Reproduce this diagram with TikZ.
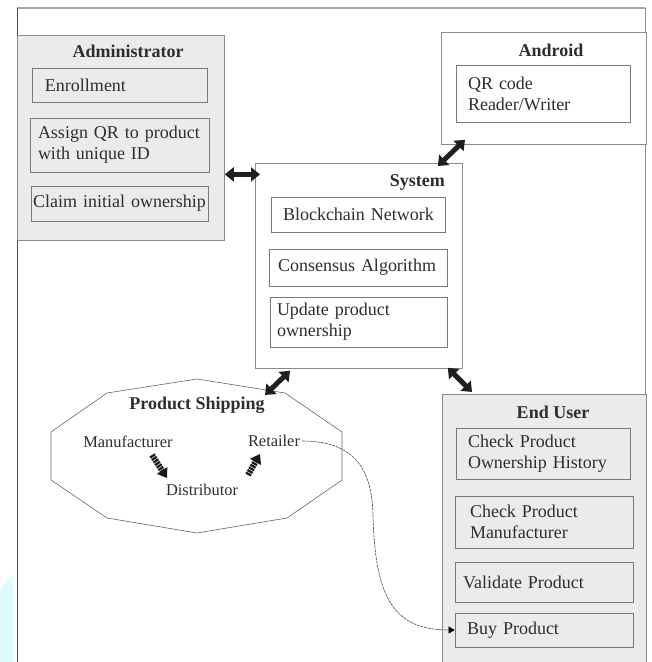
\documentclass[tikz,border=0pt]{standalone}
\usepackage{fontspec}
\setmainfont{Liberation Serif}
\usetikzlibrary{arrows.meta,calc}
\definecolor{txt}{HTML}{2E2E2E}
\definecolor{boxfill}{HTML}{EBEBEB}
\definecolor{edge}{HTML}{8C8C8C}
\definecolor{iedge}{HTML}{787878}
\definecolor{wm}{HTML}{DDFBFD}
\begin{document}
\begin{tikzpicture}[x=1pt,y=-1pt,
  font=\fontsize{18}{21}\selectfont, text=txt,
  group/.style={draw=edge, line width=0.8pt, anchor=north west, inner sep=0pt},
  item/.style={draw=iedge, line width=0.7pt, align=left, inner ysep=0pt},
  title/.style={font=\fontsize{18}{21}\selectfont\bfseries, inner sep=2pt},
  small/.style={font=\fontsize{16.4}{19}\selectfont, inner sep=2pt},
  bigarrow/.style={draw=black!88, line width=5pt,
    {Triangle[width=14pt,length=9pt]}-{Triangle[width=14pt,length=9pt]}},
  stripe/.style={draw=black!90, line width=6pt, dash pattern=on 2.2pt off 0.8pt,
    -{Triangle[width=12pt,length=9pt]}},
  conn/.style={draw=black!70, line width=0.6pt, dash pattern=on 3pt off 0.8pt,
    -{Triangle[width=7pt,length=6pt,black,fill=black]}}
]
\useasboundingbox (0,0) rectangle (652,662);
\clip (0,0) rectangle (652,662);
\fill[white] (0,0) rectangle (652,662);
% watermark fragment
\fill[wm] (0,590) -- (13,574) -- (13,662) -- (0,662) -- cycle;
% outer frame
\draw[draw=black!35, line width=1.5pt] (17,8) -- (645,8);
\draw[draw=black!45, line width=1pt] (645,8) -- (645,670);
\draw[draw=black!70, line width=1pt] (17,8) -- (17,670);

% group boxes
\node[group, fill=boxfill, minimum width=207pt, minimum height=205pt] (admin) at (17,35) {};
\node[group, fill=white, minimum width=207pt, minimum height=205pt] (sys) at (255,163) {};
\node[group, fill=white, minimum width=205pt, minimum height=112pt] (and) at (441,32) {};
\node[group, fill=boxfill, minimum width=204pt, minimum height=290pt] (eu) at (442,394) {};

% titles
\node[title] (admT) at (128,51) {Administrator};
\node[title, anchor=east] (sysT) at (447,182) {System};
\node[title] (andT) at (551,50) {Android};
\node[title] (euT) at (553,412) {End User};
\node[title] (shipT) at (197,405) {Product Shipping};

% administrator items
\node[item, fill=boxfill, minimum height=34pt, text width=149pt, inner xsep=13pt] (enr) at (119.5,85) {Enrollment};
\node[item, fill=boxfill, minimum height=54pt, text width=163pt, inner xsep=8pt] (assign) at (119.5,145) {\mbox{Assign QR to product}\\with unique ID};
\node[item, fill=boxfill, minimum height=35pt, text width=173pt, inner xsep=2pt] (claim) at (119.5,203.5) {\mbox{Claim initial ownership}};

% system items
\node[item, fill=white, minimum height=35pt, text width=150pt, inner xsep=12pt] (bc) at (358,214.5) {\mbox{Blockchain Network}};
\node[item, fill=white, minimum height=37pt, text width=160pt, inner xsep=9pt] (cons) at (358,267.5) {\mbox{Consensus Algorithm}};
\node[item, fill=white, minimum height=50pt, text width=163pt, inner xsep=7pt] (upd) at (358.5,322) {Update product\\ownership};

% android item
\node[item, fill=white, minimum height=57pt, text width=150pt, inner xsep=12pt] (qr) at (543,93.5) {QR code\\Reader/Writer};

% end user items
\node[item, fill=boxfill, minimum height=51pt, text width=150pt, inner xsep=12pt] (coh) at (543,453.5) {Check Product\\\mbox{Ownership History}};
\node[item, fill=boxfill, minimum height=52pt, text width=148pt, inner xsep=15pt] (cpm) at (544,522) {Check Product\\Manufacturer};
\node[item, fill=boxfill, minimum height=40pt, text width=162pt, inner xsep=8pt] (val) at (544,582) {Validate Product};
\node[item, fill=boxfill, minimum height=34pt, text width=154pt, inner xsep=12pt] (buy) at (544,630) {Buy Product};

% product shipping polygon
\coordinate (p1) at (197,379);
\coordinate (p2) at (285,393);
\coordinate (p3) at (342,432);
\coordinate (p4) at (342,480);
\coordinate (p5) at (287,518);
\coordinate (p6) at (197,533);
\coordinate (p7) at (107,518);
\coordinate (p8) at (51,480);
\coordinate (p9) at (51,432);
\coordinate (p10) at (107,393);
\draw[draw=black!60, line width=0.6pt] (p1) -- (p2) -- (p3) -- (p4) -- (p5) -- (p6) -- (p7) -- (p8) -- (p9) -- (p10) -- cycle;
\coordinate (shipin) at (265,395);

\node[small] (man) at (128,442) {Manufacturer};
\node[small] (ret) at (274,441) {Retailer};
\node[small] (dist) at (202,490) {Distributor};

% big double arrows
\draw[bigarrow] ([yshift=-36.5pt]admin.east) -- ([shift={(5,-91.5)}]sys.west);
\draw[bigarrow] ([shift={(24,-5)}]and.south west) -- ([shift={(-25,3)}]sys.north east);
\draw[bigarrow] ([shift={(35,2)}]sys.south west) -- (shipin);
\draw[bigarrow] ([shift={(-15,-1)}]sys.south east) -- ([shift={(30,-2)}]eu.north west);

% striped arrows
\draw[stripe] ([shift={(24,13)}]man.center) -- ([shift={(-35,-12)}]dist.center);
\draw[stripe] ([shift={(46,-15)}]dist.center) -- ([shift={(-14,13)}]ret.center);

% retailer to buy product
\draw[conn] (ret.east) .. controls (355,441) and (372,470) .. (373,515)
  .. controls (375,600) and (395,630) .. (buy.west);
\end{tikzpicture}
\end{document}
